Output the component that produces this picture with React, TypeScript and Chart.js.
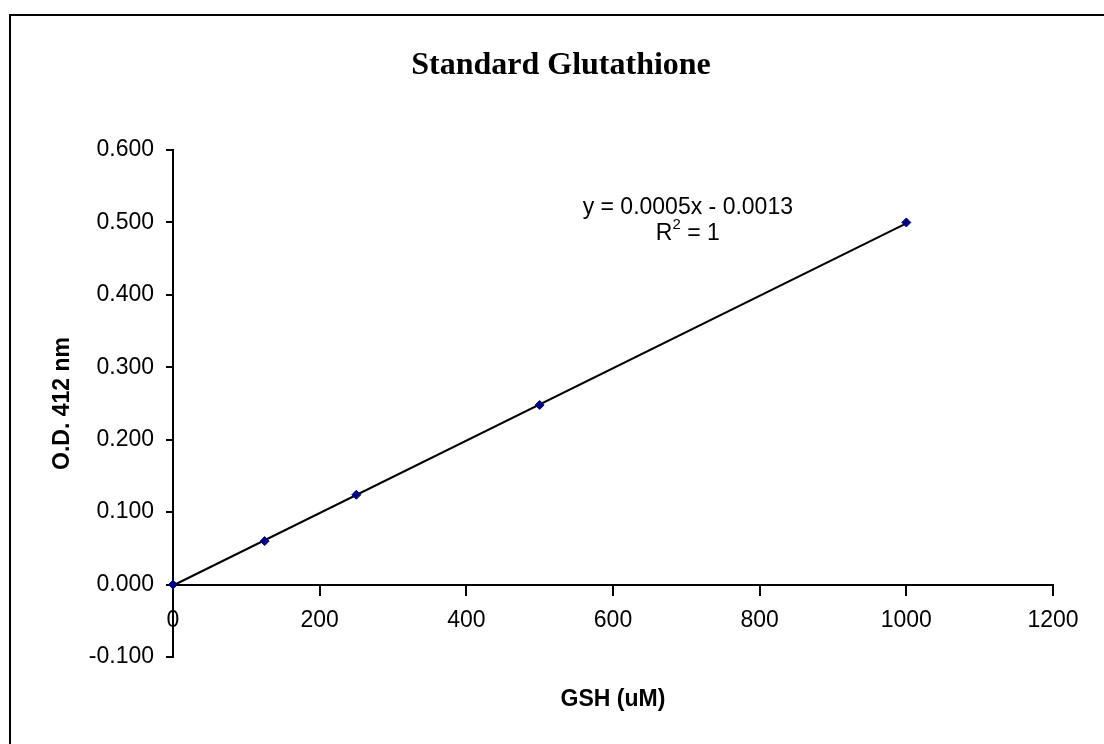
import React, { useEffect, useRef } from "react";
import { Chart, registerables } from "chart.js";

Chart.register(...registerables);

// ---- data ----
const gshUM = [0, 125, 250, 500, 1000];
const odValues = [0.0, 0.06, 0.124, 0.248, 0.5];
const trendX = [0, 1000];
const trendY = [-0.0013, 0.4987];
const xTickValues = [0, 200, 400, 600, 800, 1000, 1200];
const yTickValues = [-0.1, 0.0, 0.1, 0.2, 0.3, 0.4, 0.5, 0.6];
const chartTitle = "Standard Glutathione";
const xAxisTitle = "GSH (uM)";
const yAxisTitle = "O.D. 412 nm";
const equationText = "y = 0.0005x - 0.0013";
const rSquaredValue = "1";
const equationAnchor = { x: 702, y1: 0.521, y2: 0.485 };

const SANS = "'Liberation Sans', Arial, sans-serif";
const SERIF = "'Liberation Serif', 'Times New Roman', serif";

const textPlugin = {
  id: "excelText",
  afterDraw(chart: any) {
    const ctx = chart.ctx as CanvasRenderingContext2D;
    const area = chart.chartArea;
    const xs = chart.scales.x;
    const ys = chart.scales.y;
    ctx.save();
    // outer frame
    ctx.strokeStyle = "#000";
    ctx.lineWidth = 2;
    ctx.strokeRect(10, 15, chart.width + 40, chart.height + 40);

    ctx.fillStyle = "#000";
    ctx.textAlign = "center";
    ctx.textBaseline = "middle";
    // title
    ctx.font = `bold 32px ${SERIF}`;
    ctx.fillText(chartTitle, area.left + (area.right - area.left) / 2 - 52, area.top - 84);

    // x axis title
    ctx.font = `bold 23px ${SANS}`;
    ctx.fillText(xAxisTitle, (area.left + area.right) / 2, area.bottom + 43);

    // y axis title
    ctx.save();
    ctx.translate(area.left - 110, ys.getPixelForValue(0.25));
    ctx.rotate(-Math.PI / 2);
    ctx.font = `bold 23px ${SANS}`;
    ctx.fillText(yAxisTitle, 0, 0);
    ctx.restore();

    // trendline equation
    const ex = xs.getPixelForValue(equationAnchor.x);
    ctx.font = `23px ${SANS}`;
    ctx.fillText(equationText, ex, ys.getPixelForValue(equationAnchor.y1));
    const ry = ys.getPixelForValue(equationAnchor.y2);
    const partA = "R";
    const partB = "2";
    const partC = " = " + rSquaredValue;
    ctx.font = `23px ${SANS}`;
    const wA = ctx.measureText(partA).width;
    const wC = ctx.measureText(partC).width;
    ctx.font = `15px ${SANS}`;
    const wB = ctx.measureText(partB).width;
    let sx = ex - (wA + wB + wC) / 2;
    ctx.textAlign = "left";
    ctx.font = `23px ${SANS}`;
    ctx.fillText(partA, sx, ry);
    sx += wA;
    ctx.font = `15px ${SANS}`;
    ctx.fillText(partB, sx, ry - 8);
    sx += wB;
    ctx.font = `23px ${SANS}`;
    ctx.fillText(partC, sx, ry);
    ctx.restore();
  },
};

export default function App() {
  const canvasRef = useRef<HTMLCanvasElement | null>(null);

  useEffect(() => {
    document.body.style.margin = "0";
    document.body.style.overflow = "hidden";
    const canvas = canvasRef.current;
    if (!canvas) return;
    Chart.defaults.font.family = SANS;
    Chart.defaults.color = "#000";

    const chart = new Chart(canvas, {
      type: "scatter",
      data: {
        datasets: [
          {
            label: "O.D.",
            data: gshUM.map((x, i) => ({ x, y: odValues[i] })),
            showLine: false,
            pointStyle: "rectRot",
            pointRadius: 4.5,
            pointBackgroundColor: "#000080",
            pointBorderColor: "#000080",
            pointBorderWidth: 1,
            clip: false,
          },
          {
            label: "Linear",
            data: trendX.map((x, i) => ({ x, y: trendY[i] })),
            showLine: true,
            borderColor: "#000",
            borderWidth: 2,
            pointRadius: 0,
            clip: false,
          },
        ],
      },
      options: {
        responsive: false,
        animation: false,
        events: [],
        layout: { padding: { left: 0, top: 150, right: 51, bottom: 87 } },
        plugins: {
          legend: { display: false },
          tooltip: { enabled: false },
          title: { display: false },
        },
        scales: {
          x: {
            type: "linear",
            position: { y: 0 } as any,
            min: 0,
            max: 1200,
            afterBuildTicks: (scale: any) => {
              scale.ticks = xTickValues.map((v) => ({ value: v }));
            },
            ticks: {
              padding: 12,
              color: "#000",
              font: { size: 23, family: SANS },
              maxRotation: 0,
              autoSkip: false,
              callback: (v: any) => String(v),
            },
            grid: {
              drawOnChartArea: false,
              drawTicks: true,
              tickLength: 10,
              color: "#000",
              lineWidth: 2,
            },
            border: { display: true, color: "#000", width: 2 },
          },
          y: {
            type: "linear",
            position: "left",
            min: -0.1,
            max: 0.6,
            afterBuildTicks: (scale: any) => {
              scale.ticks = yTickValues.map((v) => ({ value: v }));
            },
            afterFit: (scale: any) => {
              scale.width = 173;
            },
            ticks: {
              padding: 12,
              color: "#000",
              font: { size: 23, family: SANS },
              autoSkip: false,
              callback: (v: any) => Number(v).toFixed(3),
            },
            grid: {
              drawOnChartArea: false,
              drawTicks: true,
              tickLength: 7,
              color: "#000",
              lineWidth: 2,
            },
            border: { display: true, color: "#000", width: 2 },
          },
        },
      },
      plugins: [textPlugin],
    });
    return () => chart.destroy();
  }, []);

  return (
    <canvas
      ref={canvasRef}
      width={1104}
      height={744}
      style={{ display: "block", width: 1104, height: 744 }}
    />
  );
}
